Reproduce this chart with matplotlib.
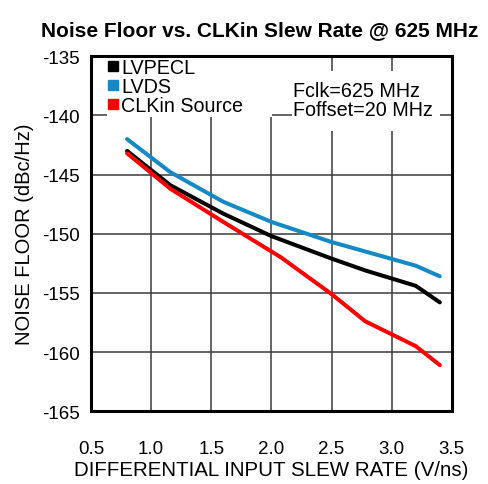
import matplotlib
matplotlib.use('Agg')
import matplotlib.pyplot as plt
from matplotlib.lines import Line2D
from matplotlib.patches import Rectangle

plt.rcParams['font.family'] = ['Liberation Sans', 'DejaVu Sans']

# slew rate (V/ns) and noise floor (dBc/Hz)
slew = [0.8, 1.16, 1.6, 2.0, 2.5, 2.78, 3.2, 3.4]
lvpecl = [-143.0, -145.9, -148.3, -150.2, -152.1, -153.1, -154.4, -155.8]
lvds = [-142.0, -144.8, -147.3, -149.0, -150.7, -151.5, -152.7, -153.6]
clkin_x = [0.8, 1.16, 1.6, 2.08, 2.5, 2.78, 3.2, 3.4]
clkin = [-143.2, -146.2, -149.0, -152.0, -155.1, -157.4, -159.5, -161.1]

xticks = [0.5, 1.0, 1.5, 2.0, 2.5, 3.0, 3.5]
yticks = [-135, -140, -145, -150, -155, -160, -165]

c_black, c_blue, c_red = '#000000', '#1589c6', '#ff0000'

fig = plt.figure(figsize=(4.89, 4.85), dpi=100)
ax = fig.add_axes([0.186, 0.150, 0.738, 0.732])

ax.plot(slew, lvpecl, color=c_black, lw=2.9, solid_capstyle='round', zorder=3)
ax.plot(slew, lvds, color=c_blue, lw=2.9, solid_capstyle='round', zorder=3)
ax.plot(clkin_x, clkin, color=c_red, lw=2.9, solid_capstyle='round', zorder=3)

ax.set_xlim(0.5, 3.5)
ax.set_ylim(-165, -135)
ax.set_xticks(xticks)
ax.set_yticks(yticks)
ax.set_xticklabels([f'{v:.1f}' for v in xticks])
ax.set_yticklabels([str(v) for v in yticks])
ax.tick_params(length=0, labelsize=13.5)
ax.tick_params(axis='x', pad=21)
ax.tick_params(axis='y', pad=8)
ax.grid(True, color='#3a3a3a', lw=1.1)
ax.set_axisbelow(True)
for s in ax.spines.values():
    s.set_linewidth(2.2)
    s.set_zorder(5)

ax.set_xlabel('DIFFERENTIAL INPUT SLEW RATE (V/ns)', fontsize=14.8, labelpad=2)
ax.set_ylabel('NOISE FLOOR (dBc/Hz)', fontsize=14.5, labelpad=6)
fig.text(0.532, 0.936, 'Noise Floor vs. CLKin Slew Rate @ 625 MHz',
         ha='center', va='center', fontsize=15, fontweight='bold')

# white boxes that hide the grid behind the legend and the note
ax.add_patch(Rectangle((0.044, 0.828), 0.457, 0.172, transform=ax.transAxes,
                       facecolor='white', edgecolor='none', zorder=1.5))
ax.add_patch(Rectangle((0.557, 0.789), 0.41, 0.169, transform=ax.transAxes,
                       facecolor='white', edgecolor='none', zorder=1.5))

handles = [Line2D([], [], marker='s', ls='', color=c, markersize=7.2)
           for c in (c_black, c_blue, c_red)]
leg = ax.legend(handles, ['LVPECL', 'LVDS', 'CLKin Source'], loc='upper left',
                fontsize=14.2, frameon=False, handlelength=0.5,
                handletextpad=0.15, labelspacing=0.0, borderpad=0,
                borderaxespad=0, bbox_to_anchor=(0.048, 0.995))
leg.set_zorder(4)

ax.text(0.56, 0.93, 'Fclk=625 MHz\nFoffset=20 MHz', transform=ax.transAxes,
        ha='left', va='top', fontsize=14.2, linespacing=1.0, zorder=4)

fig.savefig('out.png', dpi=100)
